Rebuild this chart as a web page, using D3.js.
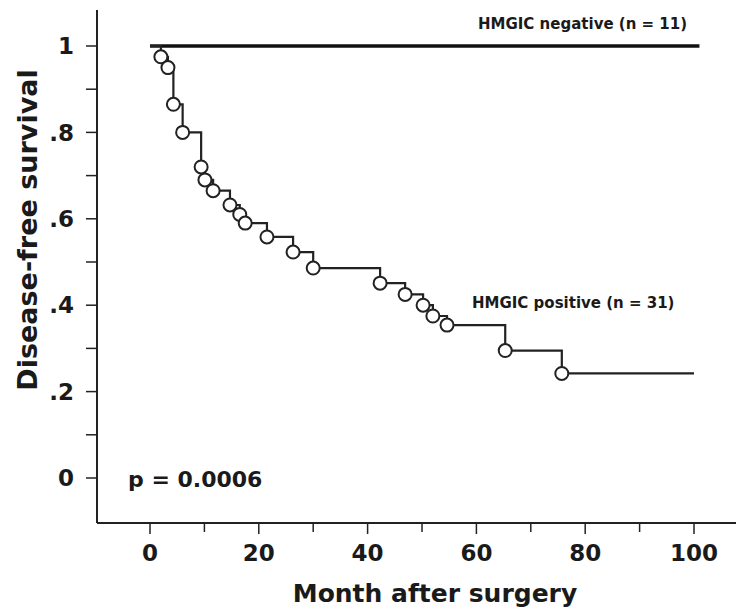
<!DOCTYPE html>
<html>
<head>
<meta charset="utf-8">
<script src="https://cdn.jsdelivr.net/npm/d3@7"></script>
<style>
  body { margin: 0; background: #fff; }
  text { font-family: "DejaVu Sans", sans-serif; font-weight: bold; fill: #1a1a1a; }
</style>
</head>
<body>
<div id="chart"></div>
<script>
// event times (months) and survival after each drop, HMGIC positive group
const posTimes = [2.0, 3.3, 4.3, 6.0, 9.4, 10.1, 11.6, 14.7, 16.5, 17.5, 21.5, 26.3, 30.0, 42.3, 46.9, 50.2, 52.0, 54.6, 65.3, 75.7];
const posSurvival = [0.975, 0.95, 0.865, 0.80, 0.72, 0.69, 0.665, 0.632, 0.61, 0.59, 0.558, 0.523, 0.486, 0.451, 0.425, 0.40, 0.375, 0.354, 0.295, 0.242];
const posEnd = 100;
const negTimes = [0, 101];
const negSurvival = [1, 1];

const xTicks = [0, 20, 40, 60, 80, 100];
const xMinor = [10, 30, 50, 70, 90];
const yTicks = [0, 0.2, 0.4, 0.6, 0.8, 1];
const yMinor = [0.1, 0.3, 0.5, 0.7, 0.9];
const yTickLabels = ['0', '.2', '.4', '.6', '.8', '1'];

const width = 736;
const height = 612;

const x = d3.scaleLinear().domain([0, 100]).range([150, 694]);
const y = d3.scaleLinear().domain([0, 1]).range([478, 46]);

const svg = d3.select('#chart')
    .append('svg')
    .attr('width', width)
    .attr('height', height);

// axes lines
svg.append('line')
    .attr('x1', 97).attr('x2', 97)
    .attr('y1', 10).attr('y2', 523)
    .attr('stroke', '#222').attr('stroke-width', 2);

svg.append('line')
    .attr('x1', 97).attr('x2', width)
    .attr('y1', 523).attr('y2', 523)
    .attr('stroke', '#222').attr('stroke-width', 2);

// y ticks
svg.append('g').selectAll('line')
    .data(yTicks.concat(yMinor))
    .enter().append('line')
    .attr('x1', 86).attr('x2', 97)
    .attr('y1', d => y(d)).attr('y2', d => y(d))
    .attr('stroke', '#222').attr('stroke-width', 1.5);

svg.append('g').selectAll('text')
    .data(yTicks)
    .enter().append('text')
    .attr('x', 74)
    .attr('y', d => y(d))
    .attr('dy', '0.36em')
    .attr('text-anchor', 'end')
    .style('font-size', '23px')
    .text((d, i) => yTickLabels[i]);

// x ticks
svg.append('g').selectAll('line')
    .data(xTicks.concat(xMinor))
    .enter().append('line')
    .attr('x1', d => x(d)).attr('x2', d => x(d))
    .attr('y1', 523).attr('y2', d => xTicks.includes(d) ? 534 : 532)
    .attr('stroke', '#222').attr('stroke-width', 1.5);

svg.append('g').selectAll('text')
    .data(xTicks)
    .enter().append('text')
    .attr('x', d => x(d))
    .attr('y', 561)
    .attr('text-anchor', 'middle')
    .style('font-size', '23px')
    .text(d => d);

// axis titles
svg.append('text')
    .attr('x', 435)
    .attr('y', 602)
    .attr('text-anchor', 'middle')
    .style('font-size', '25px')
    .text('Month after surgery');

svg.append('text')
    .attr('transform', 'translate(37,230) rotate(-90)')
    .attr('text-anchor', 'middle')
    .style('font-size', '27px')
    .text('Disease-free survival');

// negative group: flat line
const negPoints = negTimes.map((t, i) => [t, negSurvival[i]]);
svg.append('path')
    .attr('d', d3.line().x(d => x(d[0])).y(d => y(d[1]))(negPoints))
    .attr('fill', 'none')
    .attr('stroke', '#111')
    .attr('stroke-width', 3.5);

// positive group: step curve
const posPoints = [[0, 1]]
    .concat(posTimes.map((t, i) => [t, posSurvival[i]]))
    .concat([[posEnd, posSurvival[posSurvival.length - 1]]]);

svg.append('path')
    .attr('d', d3.line().curve(d3.curveStepAfter).x(d => x(d[0])).y(d => y(d[1]))(posPoints))
    .attr('fill', 'none')
    .attr('stroke', '#222')
    .attr('stroke-width', 2.2);

svg.append('g').selectAll('circle')
    .data(posTimes)
    .enter().append('circle')
    .attr('cx', d => x(d))
    .attr('cy', (d, i) => y(posSurvival[i]))
    .attr('r', 6.5)
    .attr('fill', '#fff')
    .attr('stroke', '#222')
    .attr('stroke-width', 2);

// labels
svg.append('text')
    .attr('x', 478)
    .attr('y', 29)
    .style('font-size', '15px')
    .text('HMGIC negative (n = 11)');

svg.append('text')
    .attr('x', 472)
    .attr('y', 308)
    .style('font-size', '15px')
    .text('HMGIC positive (n = 31)');

svg.append('text')
    .attr('x', 128)
    .attr('y', 487)
    .style('font-size', '22px')
    .text('p = 0.0006');
</script>
</body>
</html>
